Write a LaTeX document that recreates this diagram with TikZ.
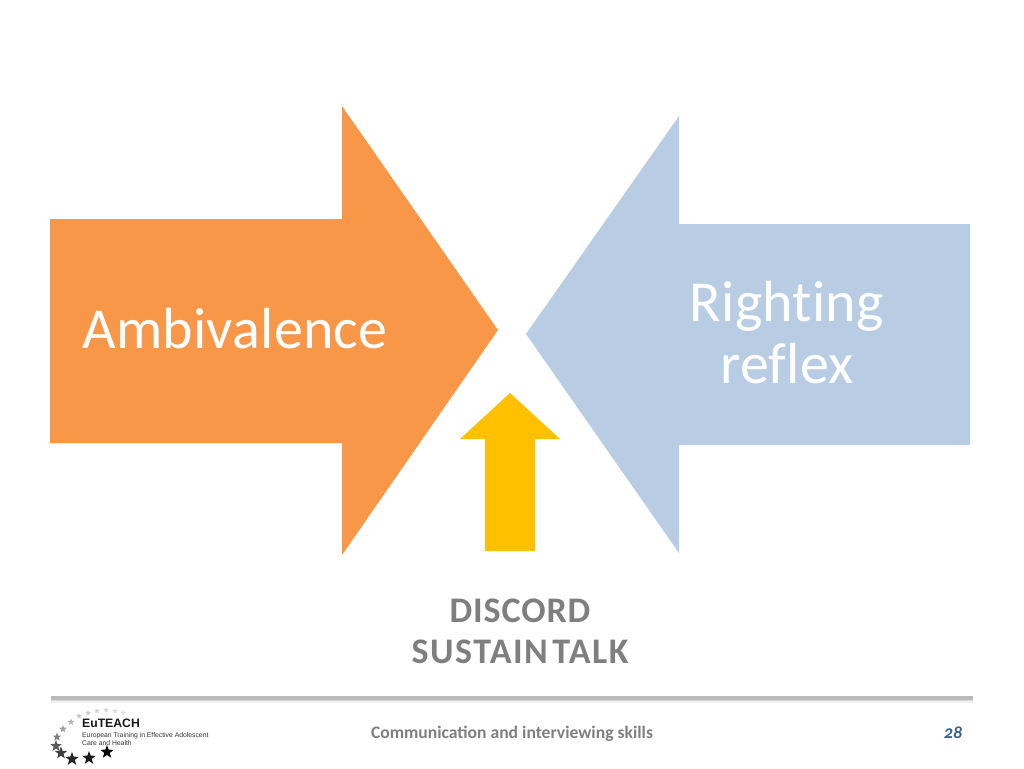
\documentclass[tikz,border=0pt]{standalone}
\usepackage{fontspec}
\setmainfont{Carlito}
\newfontfamily\logofont{Liberation Sans}
\usetikzlibrary{shapes.geometric}
\definecolor{orangearrow}{RGB}{249,151,72}
\definecolor{bluearrow}{RGB}{184,205,228}
\definecolor{yellowarrow}{RGB}{255,192,0}
\definecolor{greytext}{RGB}{127,127,127}
\definecolor{pagenum}{RGB}{54,95,145}
\tikzset{
  bigtext/.style={text=white,font=\fontsize{58}{62}\selectfont\addfontfeature{Ligatures=NoCommon,LetterSpace=0.4},align=center},
  talktext/.style={text=greytext,font=\bfseries\fontsize{36}{41}\selectfont\addfontfeature{LetterSpace=2.5},align=center},
  logotext/.style={text=black!80,font=\logofont\fontsize{6.8}{8.5}\selectfont,align=left,anchor=west,inner sep=0pt},
  logostar/.style={star,star points=5,star point ratio=2.4,fill=#1,inner sep=0pt,minimum size=10pt}
}
\begin{document}
\begin{tikzpicture}[x=1pt,y=-1pt]
    \useasboundingbox (0,0) rectangle (1024,768);

    \fill[orangearrow] (50,219) -- (342,219) -- (342,106) -- (498,330) -- (342,555) -- (342,443) -- (50,443) -- cycle;
    \fill[bluearrow] (970,224) -- (679,224) -- (679,116) -- (526,334) -- (679,553) -- (679,445) -- (970,445) -- cycle;
    \fill[yellowarrow] (510,393) -- (560,439) -- (535,439) -- (535,551) -- (485,551) -- (485,439) -- (460,439) -- cycle;

    \node[bigtext] (ambivalence) at (235,329) {Ambivalence};
    \node[bigtext] (righting) at (787,333) {Righting\\reflex};
    \node[talktext] (discord) at (520,631) {DISCORD\\\addfontfeature{LetterSpace=4.2}SUSTAIN\hspace{0.12em}TALK};

    % rule above the footer
    \fill[black!6] (51,700) rectangle (973,703);
    \fill[black!14] (51,699) rectangle (973,701);
    \fill[black!27] (51,696) rectangle (973,700);

    \node[text=greytext,font=\bfseries\fontsize{17.6}{20}\selectfont] (footer) at (512,734) {Communication and interviewing skills};
    \node[text=pagenum,font=\bfseries\itshape\fontsize{18}{20}\selectfont] (page) at (953,733) {\addfontfeature{Numbers=OldStyle}28};

    % logo
    \node[font=\logofont\bfseries\fontsize{12.2}{14}\selectfont,text=black!90,anchor=west,inner sep=0pt] (eu) at (82,723) {EuTEACH};
    \node[logotext] (eulong) at (82,739) {European Training in Effective Adolescent\\Care and Health};
    \foreach \x/\y/\s/\c in {107/752/14/black,89/758/14/black!90,72/759/14/black!85,61/753/13/black!75,56/746/12/black!65,57/737/9/black!50,63/729/8/black!38,71/722/7/black!30,79/716/6/black!24,88/713/6/black!20,97/711/6/black!18,106/710/6/black!16,115/711/6/black!14,123/713/6/black!12}
      \node[logostar=\c,minimum size=\s pt] at (\x,\y) {};
\end{tikzpicture}
\end{document}
